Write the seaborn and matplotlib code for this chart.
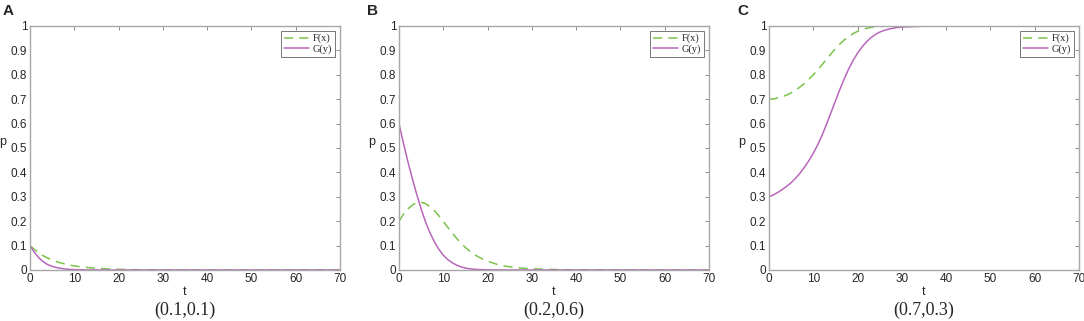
import pandas as pd
import matplotlib.pyplot as plt
import seaborn as sns

# tempo (comum aos três painéis): passo 1 até 30, depois mais espaçado
t = list(range(0, 31)) + [35, 40, 50, 60, 70]

# painel A: (0.1, 0.1)
fa = [0.1, 0.084, 0.07, 0.058, 0.049, 0.041, 0.034, 0.029, 0.024, 0.02,
      0.017, 0.014, 0.012, 0.01, 0.0085, 0.007, 0.006, 0.005, 0.004, 0.0033,
      0.0028, 0.0023, 0.0019, 0.0016, 0.0013, 0.0011, 0.0009, 0.0007, 0.0006, 0.0005,
      0.0004, 0.0001, 0, 0, 0, 0]
ga = [0.1, 0.072, 0.05, 0.034, 0.022, 0.015, 0.01, 0.0065, 0.004, 0.0026,
      0.0017, 0.0011, 0.0007, 0.0004, 0.0003, 0.0002, 0.0001, 0, 0, 0,
      0, 0, 0, 0, 0, 0, 0, 0, 0, 0,
      0, 0, 0, 0, 0, 0]

# painel B: (0.2, 0.6)
fb = [0.2, 0.228, 0.25, 0.266, 0.276, 0.278, 0.272, 0.26, 0.243, 0.222,
      0.199, 0.175, 0.152, 0.13, 0.11, 0.092, 0.077, 0.064, 0.053, 0.044,
      0.036, 0.03, 0.024, 0.02, 0.016, 0.013, 0.011, 0.009, 0.007, 0.006,
      0.005, 0.002, 0.0005, 0, 0, 0]
gb = [0.6, 0.52, 0.445, 0.375, 0.31, 0.25, 0.197, 0.152, 0.115, 0.085,
      0.061, 0.043, 0.03, 0.02, 0.013, 0.008, 0.005, 0.003, 0.002, 0.001,
      0.0006, 0.0003, 0.0002, 0.0001, 0, 0, 0, 0, 0, 0,
      0, 0, 0, 0, 0, 0]

# painel C: (0.7, 0.3)
fc = [0.7, 0.701, 0.705, 0.71, 0.717, 0.726, 0.737, 0.75, 0.765, 0.782,
      0.8, 0.82, 0.842, 0.864, 0.886, 0.907, 0.926, 0.943, 0.957, 0.969,
      0.978, 0.985, 0.99, 0.994, 0.996, 0.998, 0.999, 1.0, 1.0, 1.0,
      1.0, 1.0, 1.0, 1.0, 1.0, 1.0]
gc = [0.3, 0.308, 0.318, 0.33, 0.343, 0.358, 0.376, 0.397, 0.421, 0.448,
      0.478, 0.513, 0.553, 0.598, 0.645, 0.693, 0.74, 0.784, 0.824, 0.859,
      0.889, 0.914, 0.935, 0.952, 0.965, 0.975, 0.982, 0.987, 0.991, 0.994,
      0.996, 0.999, 1.0, 1.0, 1.0, 1.0]

paineis = [('A', '(0.1,0.1)', fa, ga),
           ('B', '(0.2,0.6)', fb, gb),
           ('C', '(0.7,0.3)', fc, gc)]

sns.set_style('white')
plt.rcParams['font.family'] = ['Liberation Sans', 'DejaVu Sans']

verde = '#7cc24a'
roxo = '#b866bb'
cinza = '#a8a8a8'

fig = plt.figure(figsize=(10.84, 3.21), dpi=100)
lefts = [30, 399, 769]
for (letra, subt, f, g), x0 in zip(paineis, lefts):
    ax = fig.add_axes([x0 / 1084, 51 / 321, 310 / 1084, 244 / 321])
    df = pd.DataFrame({'t': t, 'F(x)': f, 'G(y)': g})
    sns.lineplot(data=df, x='t', y='F(x)', ax=ax, color=verde, lw=1.1, label='F(x)')
    ax.lines[-1].set_linestyle((0, (6, 4)))
    sns.lineplot(data=df, x='t', y='G(y)', ax=ax, color=roxo, lw=1.1, label='G(y)')
    ax.set_xlim(0, 70)
    ax.set_ylim(0, 1)
    ax.set_xticks(range(0, 71, 10))
    ax.set_yticks([i / 10 for i in range(11)])
    ax.set_yticklabels(['0', '0.1', '0.2', '0.3', '0.4', '0.5', '0.6', '0.7', '0.8', '0.9', '1'])
    ax.tick_params(direction='in', top=True, right=True, length=3, width=0.6,
                   color='#777777', labelsize=8.5, pad=2)
    for s in ax.spines.values():
        s.set_color(cinza)
        s.set_linewidth(1.0)
    ax.set_xlabel('t', fontsize=9, labelpad=1)
    ax.set_ylabel('p', fontsize=9, rotation=0, labelpad=6)
    leg = ax.legend(loc='upper right', prop={'family': 'Liberation Serif', 'size': 7.5},
                    frameon=True, fancybox=False, handlelength=2.4, handletextpad=0.4,
                    borderpad=0.25, labelspacing=0.1, borderaxespad=0.5)
    leg.get_frame().set_edgecolor('#555555')
    leg.get_frame().set_linewidth(0.7)
    fig.text((x0 + 155) / 1084, 11 / 321, subt, ha='center', va='center',
             family='Liberation Serif', fontsize=13)
    fig.text((x0 - 27 if letra == 'A' else x0 - 32) / 1084, 310 / 321, letra,
             ha='left', va='center', fontsize=11, fontweight='bold')

fig.savefig('out.png', dpi=100)
